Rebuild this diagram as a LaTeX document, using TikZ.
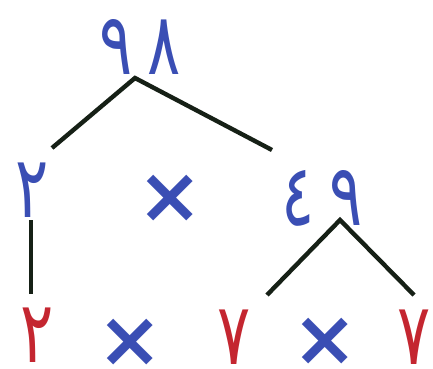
\documentclass[tikz,border=0pt]{standalone}
\usepackage{fontspec}
\newfontfamily\arabicfont[Script=Arabic]{DejaVu Sans}
\definecolor{numblue}{RGB}{58,78,180}
\definecolor{numred}{RGB}{196,38,48}
\definecolor{branch}{RGB}{22,32,22}
\newcommand\digitgap{\hspace{21pt}}
\begin{document}
\begin{tikzpicture}[x=1pt,y=-1pt,
  num/.style={inner sep=0pt, anchor=base, text depth=0pt, xscale=0.72, font=\arabicfont\fontsize{86}{94}\selectfont},
  blue num/.style={num, text=numblue},
  red num/.style={num, text=numred},
  times/.style={inner sep=0pt, anchor=base, text depth=0pt, text=numblue, font=\arabicfont\bfseries\fontsize{78}{88}\selectfont},
  branchline/.style={draw=branch, line width=4.4pt}]
\useasboundingbox (0,0) rectangle (433,368);
% numbers of the tree
\node[blue num] (n98) at (140,74) {٩\digitgap٨};
\node[blue num] (n2) at (32,217) {٢};
\node[times] (t1) at (170,222) {×};
\node[blue num] (n49) at (322,225) {٤\digitgap٩};
\node[red num] (f2) at (37,362) {٢};
\node[times] (t2) at (130,366) {×};
\node[red num] (f7a) at (234,364) {٧};
\node[times] (t3) at (325,365) {×};
\node[red num] (f7b) at (414,364) {٧};
% branch end points
\coordinate (a98) at (135,78);
\coordinate (l98) at (52,148);
\coordinate (r98) at (272,150);
\coordinate (t2top) at (31,220);
\coordinate (t2bot) at (31,294);
\coordinate (a49) at (340,220);
\coordinate (l49) at (267,295);
\coordinate (r49) at (414,295);
\draw[branchline] (l98) -- (a98) -- (r98);
\draw[branchline] (t2top) -- (t2bot);
\draw[branchline] (l49) -- (a49) -- (r49);
\end{tikzpicture}
\end{document}
